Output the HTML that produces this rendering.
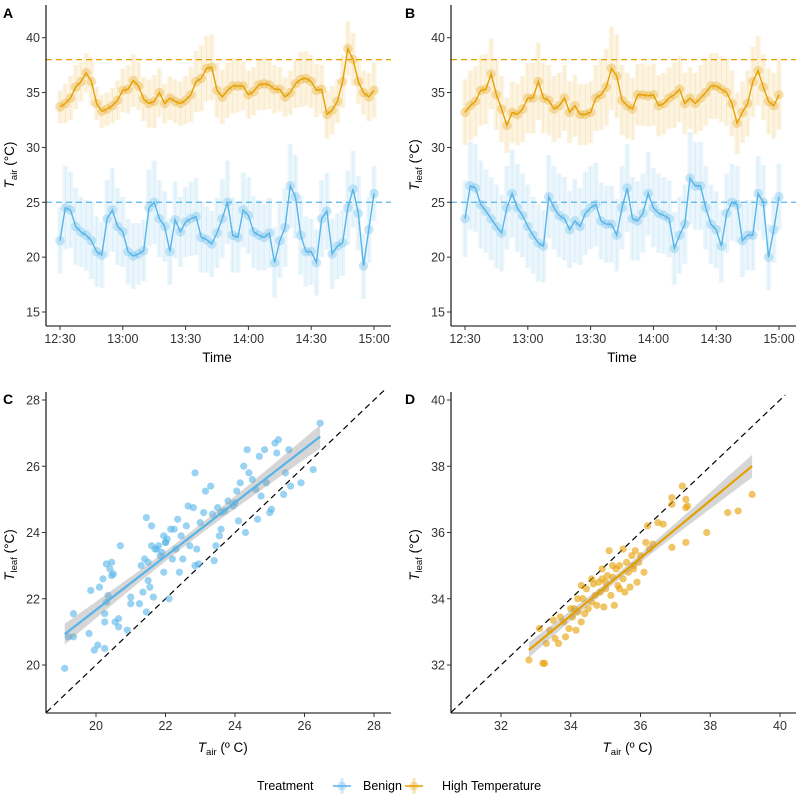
<!DOCTYPE html>
<html><head><meta charset="utf-8"><style>
html,body{margin:0;padding:0;background:#fff;}
svg{display:block;font-family:"Liberation Sans",Arial,sans-serif;}
</style></head><body>
<svg id="fig" width="796" height="796" viewBox="0 0 796 796"></svg>
<script>
// ---- data ----
const aHigh=[33.7,34.0,34.5,35.5,36.0,36.8,36.0,34.0,33.3,33.5,33.8,34.3,35.2,35.3,36.1,35.6,34.4,34.0,34.2,35.0,34.0,34.5,34.2,34.0,34.3,34.8,36.0,36.3,37.2,37.3,35.2,34.6,35.2,35.6,35.6,35.6,34.8,35.1,35.7,35.8,35.7,35.3,35.3,34.6,35.0,35.8,36.2,36.3,36.0,35.2,35.3,33.0,33.4,34.2,36.0,39.0,38.0,36.0,35.0,34.6,35.2];
const aHighErr=[1.5,1.8,2.0,2.0,1.8,1.8,2.2,1.5,1.5,1.5,1.6,1.8,2.0,2.2,2.4,2.2,2.0,2.2,2.4,2.2,1.8,2.0,2.0,2.0,2.2,2.5,2.8,3.0,3.0,3.0,2.5,2.5,2.5,2.5,2.4,2.2,2.2,2.2,2.3,2.4,2.2,2.2,2.0,1.8,2.0,2.2,2.5,2.5,2.4,2.4,2.2,2.2,2.2,2.0,2.4,2.5,2.4,2.0,2.0,2.2,2.5];
const aBen=[21.5,24.5,24.3,22.8,22.3,22.0,21.5,20.5,20.2,23.5,24.3,22.8,22.3,20.5,20.1,20.3,20.6,24.5,25.0,23.5,22.8,20.5,23.4,22.3,23.2,23.5,23.7,21.8,21.6,21.2,22.2,23.5,25.0,22.0,21.8,24.3,23.8,22.3,22.0,21.8,22.2,19.5,21.5,22.7,26.5,25.5,22.0,20.5,20.5,19.5,23.5,24.2,20.3,21.0,21.3,24.5,26.2,24.0,19.2,22.5,25.8];
const aBenErr=[3.0,3.8,3.5,3.5,3.2,3.2,3.5,3.2,3.0,3.5,3.8,3.5,3.2,3.0,3.0,2.8,2.8,3.5,3.8,3.5,3.2,3.0,3.5,3.2,3.2,3.4,3.5,3.2,3.0,3.0,3.2,3.6,3.8,3.4,3.2,3.4,3.5,3.3,3.2,3.0,3.2,3.2,3.4,3.6,3.8,3.8,3.6,3.2,3.0,3.0,3.5,3.5,3.2,3.0,3.0,3.4,3.5,3.4,3.0,3.0,2.5];
const bHigh=[33.2,33.8,34.2,35.2,35.3,36.7,34.8,33.5,32.0,33.2,33.0,33.5,34.5,34.5,36.0,34.5,34.3,33.5,33.8,34.5,33.2,33.8,33.0,33.0,33.2,34.5,34.8,35.5,37.2,36.5,34.3,33.8,33.5,34.8,34.8,34.7,34.8,33.8,34.0,34.5,34.8,35.3,34.0,34.5,34.0,34.5,35.0,35.6,35.6,35.3,35.0,34.0,32.2,33.2,34.0,36.0,37.0,35.5,34.2,33.8,34.8];
const bHighErr=[3.0,3.2,3.2,3.2,3.2,3.2,3.2,3.0,2.5,2.8,2.8,3.0,3.2,3.2,3.5,3.2,3.2,3.0,3.0,3.0,2.8,2.8,2.8,2.8,2.8,3.0,3.2,3.5,3.8,3.8,3.2,3.0,2.8,2.8,2.8,2.8,2.8,2.8,2.8,2.8,3.0,3.0,2.8,2.8,2.8,3.0,3.0,3.0,3.0,3.0,3.0,3.0,2.8,2.8,3.0,3.2,3.2,3.0,3.0,3.0,3.2];
const bBen=[23.5,26.5,26.3,24.8,24.2,23.5,22.8,22.2,24.5,25.8,24.5,23.8,22.8,22.0,21.3,21.0,25.5,24.5,23.8,23.5,22.5,23.3,22.8,24.0,24.5,24.8,23.3,23.0,23.0,22.0,24.5,26.3,23.5,23.3,24.0,25.8,24.5,24.0,23.8,23.5,20.8,22.0,23.0,27.2,26.5,26.5,24.5,23.0,22.5,21.0,24.0,25.0,24.8,21.5,22.0,22.0,25.8,25.0,20.0,22.5,25.5];
const bBenErr=[3.5,4.0,4.0,4.0,3.8,3.8,3.8,3.5,3.8,4.0,4.0,3.8,3.8,3.5,3.5,3.3,3.8,3.8,3.8,3.8,3.5,3.8,3.5,3.8,3.8,3.8,3.5,3.5,3.5,3.3,3.8,4.0,3.8,3.6,3.6,3.8,3.6,3.6,3.5,3.5,3.3,3.5,3.6,4.2,4.0,4.0,3.8,3.6,3.5,3.3,3.6,3.5,3.5,3.3,3.2,3.2,3.4,3.4,3.0,3.0,3.0];
const timeTicks=["12:30","13:00","13:30","14:00","14:30","15:00"];
const timeTickMin=[0,30,60,90,120,150];
const tempTicks=[15,20,25,30,35,40];
const cX=[19.1,19.2,19.35,19.35,19.8,19.85,19.95,20.05,20.1,20.2,20.25,20.25,20.25,20.3,20.3,20.35,20.4,20.45,20.45,20.5,20.55,20.65,20.65,20.7,20.9,21.0,21.0,21.25,21.3,21.35,21.4,21.45,21.45,21.5,21.55,21.6,21.6,21.65,21.7,21.8,21.85,21.95,21.95,22.0,22.1,22.15,22.2,22.3,22.35,22.4,22.45,22.5,22.6,22.65,22.7,22.8,22.85,22.85,22.9,22.95,23.1,23.15,23.3,23.35,23.4,23.45,23.5,23.55,23.6,23.7,23.8,23.95,24.05,24.1,24.15,24.25,24.3,24.35,24.4,24.5,24.6,24.65,24.7,24.75,24.85,24.9,25.0,25.05,25.15,25.2,25.25,25.4,25.45,25.55,25.6,25.9,26.25,26.45,21.9,22.05,21.75,22.25,23.0,23.6,24.0,21.5,22.0];
const cY=[19.9,20.85,20.85,21.55,20.95,22.25,20.45,20.6,22.35,22.6,21.3,21.55,20.5,23.05,21.9,22.1,22.9,22.7,23.1,22.75,21.3,21.15,21.4,23.6,21.05,22.05,21.85,21.85,23.0,22.2,23.2,21.6,24.45,22.55,22.35,23.6,24.2,22.05,23.5,23.6,23.3,23.9,22.8,23.7,22.0,24.1,23.2,23.5,24.4,22.8,23.9,23.2,24.2,24.8,23.6,24.75,25.8,23.0,23.5,23.05,24.6,25.25,25.4,24.55,23.15,23.6,24.75,23.9,24.1,24.65,24.95,24.8,25.25,24.35,25.5,26.0,24.0,26.5,25.8,25.6,25.3,24.4,26.3,25.1,26.5,25.5,24.6,24.7,26.7,26.4,26.8,25.15,25.8,26.5,25.4,25.5,25.9,27.3,23.4,23.8,23.5,24.1,24.3,24.6,24.9,23.1,23.7];
const dX=[32.8,33.2,33.25,33.1,33.3,33.4,33.5,33.55,33.65,33.7,33.8,33.85,33.95,34.0,34.05,34.1,34.15,34.2,34.3,34.35,34.4,34.45,34.5,34.6,34.65,34.7,34.75,34.8,34.85,34.9,34.95,35.0,35.05,35.1,35.15,35.2,35.25,35.3,35.35,35.4,35.5,35.55,35.6,35.65,35.7,35.75,35.8,35.85,35.9,35.95,36.0,36.1,36.15,36.2,36.25,36.35,36.5,36.65,36.9,36.9,36.9,37.2,37.3,37.3,37.3,37.35,37.9,38.5,38.8,39.2,34.2,34.6,35.0,35.4,35.8,35.2,34.9,35.5,34.3];
const dY=[32.15,32.05,32.05,33.1,32.65,33.05,33.35,32.8,32.65,33.45,33.3,32.85,33.1,33.7,33.45,33.7,33.05,33.6,33.3,34.0,33.55,34.3,33.7,33.9,34.45,34.1,33.8,34.5,34.2,34.6,33.75,34.3,34.7,35.45,34.1,34.65,33.8,34.9,34.4,35.0,34.6,34.2,35.1,34.8,34.35,35.3,34.9,35.45,34.5,35.1,35.3,34.8,35.7,36.2,35.5,35.65,36.3,36.25,35.55,36.85,37.05,37.4,35.7,37.0,36.75,36.8,36.0,36.6,36.65,37.15,34.0,34.6,34.5,34.3,35.0,35.0,34.9,35.5,34.4];
const cTicks=[20,22,24,26,28];
const dTicks=[32,34,36,38,40];

const BLUE="#56B4E9", ORANGE="#E69F00";
const NS="http://www.w3.org/2000/svg";
const svg=document.getElementById('fig');
function mk(tag,attrs,parent){const e=document.createElementNS(NS,tag);for(const k in attrs)e.setAttribute(k,attrs[k]);(parent||svg).appendChild(e);return e;}
function lin(d0,d1,r0,r1){return v=>r0+(v-d0)*(r1-r0)/(d1-d0);}

function axes(g,x0,y0,x1,y1){
  const a=mk('line',{x1:x0,y1:y0,x2:x0,y2:y1,stroke:'#000','stroke-width':1.1},g);
  
  const b=mk('line',{x1:x0,y1:y1,x2:x1,y2:y1,stroke:'#000','stroke-width':1.1},g);
  
}
function yTick(g,x0,y,label){
  mk('line',{x1:x0-4,y1:y,x2:x0,y2:y,stroke:'#333','stroke-width':1},g);
  const t=mk('text',{x:x0-6,y:y+4.5,'text-anchor':'end','font-size':12.5,fill:'#333'},g);t.textContent=label;
  
}
function xTick(g,x,y1,label){
  mk('line',{x1:x,y1:y1,x2:x,y2:y1+4,stroke:'#333','stroke-width':1},g);
  const t=mk('text',{x:x,y:y1+17,'text-anchor':'middle','font-size':12.5,fill:'#333'},g);t.textContent=label;
  
}
function ylabel(g,x,y,sub){
  const t=mk('text',{transform:`translate(${x},${y}) rotate(-90)`,'text-anchor':'middle','font-size':13.5,fill:'#000'},g);
  t.innerHTML=`<tspan font-style="italic">T</tspan><tspan font-size="9.5" dy="3">${sub}</tspan><tspan dy="-3"> (°C)</tspan>`;
  
}
function letter(x,y,s){const t=mk('text',{x:x,y:y,'font-size':14,'font-weight':'bold'});t.textContent=s;
  }

function timePanel(name,ax,tickX0,tickX1,series,sub){
  const g=mk('g',{});
  const X=lin(0,150,tickX0,tickX1), Y=lin(15,40,312,37.7);
  series.forEach(([vals,errs,c])=>{
    const n=vals.length;
    const sg=mk('g',{},g);
    const w=(tickX1-tickX0)/(n-1);
    vals.forEach((v,i)=>{const t=i*150/(n-1);
      const e=mk('rect',{x:X(t)-w/2,y:Y(v+errs[i]),width:w,height:Y(v-errs[i])-Y(v+errs[i]),fill:c,opacity:0.12},sg);
      
      mk('line',{x1:X(t),x2:X(t),y1:Y(v+errs[i]),y2:Y(v-errs[i]),stroke:c,'stroke-width':0.8,opacity:0.15},sg);
    });
    vals.forEach((v,i)=>{const t=i*150/(n-1);
      const p=mk('circle',{cx:X(t),cy:Y(v),r:4.8,fill:c,opacity:0.3},sg);
      });
    const pl=mk('polyline',{points:vals.map((v,i)=>X(i*150/(n-1))+','+Y(v)).join(' '),fill:'none',stroke:c,'stroke-width':1.4},sg);
    
  });
  [[25,BLUE],[38,ORANGE]].forEach(([v,c])=>{
    const l=mk('line',{x1:ax,x2:ax+345,y1:Y(v),y2:Y(v),stroke:c,'stroke-width':1.3,'stroke-dasharray':'6,4'},g);
    
  });
  axes(g,ax,5,ax+345,326);
  tempTicks.forEach(v=>yTick(g,ax,Y(v),v));
  timeTicks.forEach((s,i)=>xTick(g,X(timeTickMin[i]),326,s));
  const tt=mk('text',{x:(tickX0+tickX1)/2,y:362,'text-anchor':'middle','font-size':13.5},g);tt.textContent='Time';
  
  ylabel(g,ax-32,165,sub);
}
timePanel('panel-a-tair',46,60,374,[[aBen,aBenErr,BLUE],[aHigh,aHighErr,ORANGE]],'air');
timePanel('panel-b-tleaf',451,465,779,[[bBen,bBenErr,BLUE],[bHigh,bHighErr,ORANGE]],'leaf');

function scatterPanel(name,ax,xs,ys,xt,c,X,Y,xmin,xmax,ymin,ymax){
  const g=mk('g',{});
  const lo=Math.max(xmin,ymin), hi=Math.min(xmax,ymax);
  const d=mk('line',{x1:X(lo),y1:Y(lo),x2:X(hi),y2:Y(hi),stroke:'#000','stroke-width':1.2,'stroke-dasharray':'6,4'},g);
  
  xs.forEach((x,i)=>{const p=mk('circle',{cx:X(x),cy:Y(ys[i]),r:3.6,fill:c,opacity:0.6},g);
    });
  const n=xs.length,mx=xs.reduce((a,b)=>a+b)/n,my=ys.reduce((a,b)=>a+b)/n;
  let sxx=0,sxy=0;xs.forEach((x,i)=>{sxx+=(x-mx)**2;sxy+=(x-mx)*(ys[i]-my);});
  const b=sxy/sxx,a=my-b*mx;let sse=0;xs.forEach((x,i)=>{sse+=(ys[i]-a-b*x)**2;});
  const s=Math.sqrt(sse/(n-2));
  const x0=Math.min(...xs),x1=Math.max(...xs);const up=[],dn=[];
  for(let k=0;k<=20;k++){const x=x0+(x1-x0)*k/20;const se=1.97*s*Math.sqrt(1/n+(x-mx)**2/sxx);
    up.push(X(x)+','+Y(a+b*x+se));dn.unshift(X(x)+','+Y(a+b*x-se));}
  const band=mk('polygon',{points:up.concat(dn).join(' '),fill:'#999',opacity:0.4},g);
  
  const fl=mk('line',{x1:X(x0),y1:Y(a+b*x0),x2:X(x1),y2:Y(a+b*x1),stroke:c,'stroke-width':2.2},g);
  
  axes(g,ax,392,ax+345,713);
  xt.forEach(v=>{yTick(g,ax,Y(v),v);xTick(g,X(v),713,v);});
  const tt=mk('text',{x:X((xmin+xmax)/2)+5,y:752,'text-anchor':'middle','font-size':13.5},g);
  tt.innerHTML='<tspan font-style="italic">T</tspan><tspan font-size="9.5" dy="3">air</tspan><tspan dy="-3"> (º C)</tspan>';
  
  ylabel(g,ax-32,555,'leaf');
}
scatterPanel('panel-c-benign',46,cX,cY,cTicks,BLUE,lin(20,28,96,374),lin(20,28,665,400),18.56,28.45,18.58,28.3);
scatterPanel('panel-d-high',451,dX,dY,dTicks,ORANGE,lin(32,40,501,780),lin(32,40,665,400),30.57,40.4,30.55,40.15);

letter(3,18,'A');letter(405,18,'B');letter(3,404,'C');letter(405,404,'D');

const lg=mk('g',{});
const lt=mk('text',{x:257,y:790,'font-size':12.5},lg);lt.textContent='Treatment';

[[342,BLUE,'Benign',363],[414,ORANGE,'High Temperature',442]].forEach(([cx,c,s,tx])=>{
  const e=mk('g',{},lg);
  mk('line',{x1:cx,x2:cx,y1:778,y2:794,stroke:c,'stroke-width':3,opacity:0.25},e);
  mk('circle',{cx:cx,cy:786,r:4.5,fill:c,opacity:0.3},e);
  mk('line',{x1:cx-9,x2:cx+9,y1:786,y2:786,stroke:c,'stroke-width':1.4},e);
  const t=mk('text',{x:tx,y:790,'font-size':12.5},e);t.textContent=s;
});
</script>
</body></html>
